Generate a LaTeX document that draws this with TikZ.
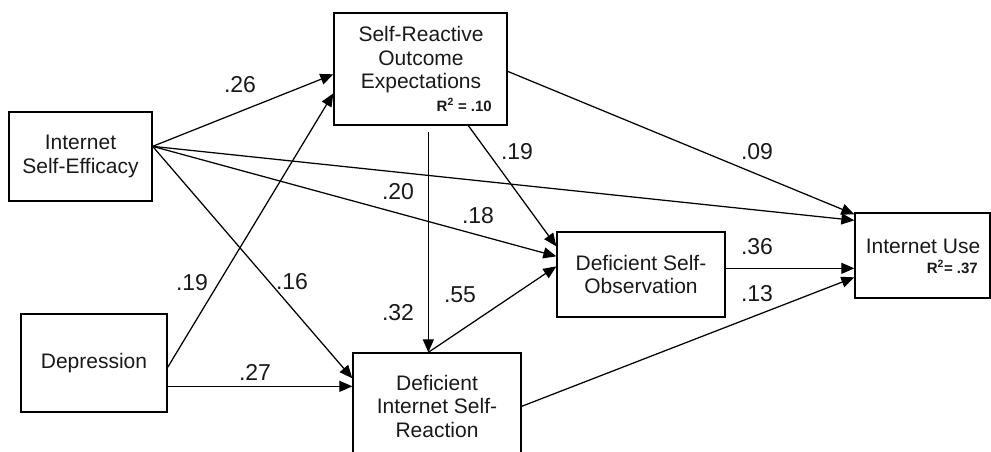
\documentclass[tikz,border=0pt]{standalone}
\usepackage{fontspec}
\setmainfont{Liberation Sans}
\usetikzlibrary{arrows.meta,calc}
\begin{document}
\begin{tikzpicture}[x=1pt,y=-1pt,
  box/.style={draw=black,line width=1.3pt,rectangle,inner sep=0pt,align=center,
    font=\fontsize{21}{23.5}\selectfont,text=black!90},
  boxtext/.style={inner sep=0pt,align=center,font=\fontsize{21}{23.5}\selectfont,text=black!90},
  coef/.style={inner sep=0pt,font=\fontsize{23}{27}\selectfont,text=black!90},
  rsq/.style={inner sep=0pt,anchor=base east,font=\fontsize{15}{17}\selectfont\bfseries,text=black!90},
  path/.style={draw=black,line width=1.25pt,-{Triangle[length=13pt,width=11pt]}}]
\useasboundingbox (0,0) rectangle (991,452);

% boxes
\node[box,minimum width=143,minimum height=89] (ise) at (80.5,156.5) {Internet\\Self-Efficacy};
\node[box,minimum width=173,minimum height=112] (sroe) at (420.5,69) {};
\node[boxtext] (sroet) at (421,59.6) {Self-Reactive\\Outcome\\Expectations};
\node[rsq] (sroer) at (492,111) {R\textsuperscript{2} = .10};
\node[box,minimum width=146,minimum height=98] (dep) at (94,363) {Depression};
\node[box,minimum width=168,minimum height=106] (disr) at (437,406) {Deficient\\Internet Self-\\Reaction};
\node[box,minimum width=168,minimum height=85] (dso) at (641,274.5) {Deficient Self-\\Observation};
\node[box,minimum width=135,minimum height=85] (iu) at (922.5,255.5) {};
\node[boxtext,anchor=base] (iut) at (923,253) {Internet Use};
\node[rsq] (iur) at (978,273) {R\textsuperscript{2}= .37};

% ports
\coordinate (iseo) at ($(ise.north east)+(0,35)$);
\coordinate (disrtop) at ($(disr.north west)+(76,0)$);

% paths
\draw[path] (iseo) -- ($(sroe.north west)+(0,62)$);
\draw[path] ($(dep.north east)+(0,54)$) -- ($(sroe.north west)+(0,81)$);
\draw[path] (iseo) -- ($(disr.north west)+(0,26)$);
\draw[path] ($(dep.north east)+(0,73)$) -- ($(disr.north west)+(0,34)$);
\draw[path] (iseo) -- ($(iu.north west)+(0,8)$);
\draw[path] (iseo) -- ($(dso.north west)+(0,25)$);
\draw[path] ($(sroe.south west)+(135,0)$) -- ($(dso.north west)+(0,15)$);
\draw[path] ($(sroe.south west)+(95,6)$) -- (disrtop);
\draw[path] (disrtop) -- ($(dso.north west)+(0,35)$);
\draw[path] ($(sroe.north east)+(0,59)$) -- ($(iu.north west)+(0,2)$);
\draw[path] ($(dso.north east)+(0,37)$) -- ($(iu.north west)+(0,56)$);
\draw[path] ($(disr.north east)+(0,54)$) -- ($(iu.north west)+(0,65)$);

% coefficients
\node[coef] (c26) at (240,85) {.26};
\node[coef] (c19a) at (192,283) {.19};
\node[coef] (c16) at (292,282) {.16};
\node[coef] (c27) at (255,372) {.27};
\node[coef] (c20) at (398,192) {.20};
\node[coef] (c18) at (478,216) {.18};
\node[coef] (c19b) at (517,152) {.19};
\node[coef] (c32) at (398,313) {.32};
\node[coef] (c55) at (460,295) {.55};
\node[coef] (c09) at (757,152) {.09};
\node[coef] (c36) at (757,247) {.36};
\node[coef] (c13) at (757,294) {.13};
\end{tikzpicture}
\end{document}
